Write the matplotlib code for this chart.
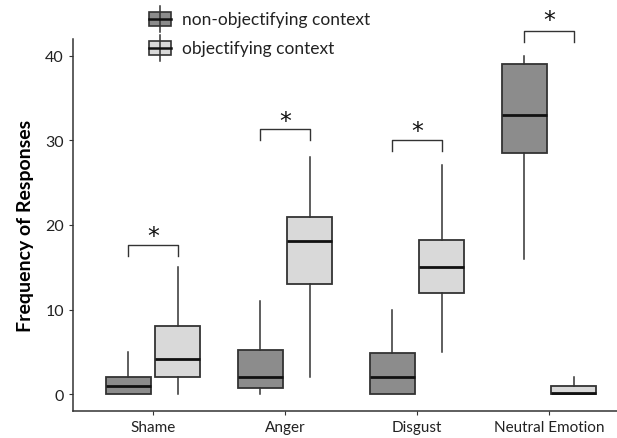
import matplotlib
matplotlib.use("Agg")
import matplotlib.pyplot as plt
from matplotlib.patches import Rectangle

# box statistics
categories = ["Shame", "Anger", "Disgust", "Neutral Emotion"]
groups = ["non-objectifying context", "objectifying context"]

non_q1 = [0, 0.75, 0, 28.5]
non_med = [1, 2, 2, 33]
non_q3 = [2, 5.2, 4.9, 39]
non_lo = [0, 0, 0, 16]
non_hi = [5, 11, 10, 40]

obj_q1 = [2, 13, 12, 0]
obj_med = [4.1, 18.1, 15, 0.15]
obj_q3 = [8, 21, 18.2, 1]
obj_lo = [0, 2, 5, 0]
obj_hi = [15, 28, 27.1, 2]

# significance brackets: bar height, star height
bracket_top = [17.6, 31.3, 30.1, 43.0]
star_y = [19.3, 32.9, 31.75, 44.8]

dark = "#8c8c8c"
light = "#d9d9d9"
edge = "#333333"

fig = plt.figure(figsize=(6.17, 4.39), dpi=100)
ax = fig.add_axes([73 / 617, 1 - 412 / 439, 1 - 73 / 617, (412 - 40) / 439])

off = 0.186
width = 0.335


def stats(q1, med, q3, lo, hi):
    return [dict(q1=a, med=b, q3=c, whislo=d, whishi=e, fliers=[])
            for a, b, c, d, e in zip(q1, med, q3, lo, hi)]


for st, pos, col in [
    (stats(non_q1, non_med, non_q3, non_lo, non_hi), [i - off for i in range(4)], dark),
    (stats(obj_q1, obj_med, obj_q3, obj_lo, obj_hi), [i + off for i in range(4)], light),
]:
    ax.bxp(st, positions=pos, widths=width, patch_artist=True, showcaps=False,
           showfliers=False, manage_ticks=False,
           boxprops=dict(facecolor=col, edgecolor=edge, linewidth=1.3),
           whiskerprops=dict(color=edge, linewidth=1.1),
           medianprops=dict(color="#111111", linewidth=2.0))

# brackets
for i in range(4):
    x0, x1 = i - off, i + off
    top = bracket_top[i]
    ax.plot([x0, x0, x1, x1], [top - 1.3, top, top, top - 1.3], color=edge,
            lw=1.0, clip_on=False)
    ax.text(i, star_y[i] - 0.6, "*", ha="center", va="center", fontsize=17,
            family="DejaVu Sans", color="#111111", clip_on=False)

ax.set_xlim(-0.606, 3.515)
ax.set_ylim(-2, 42)
ax.set_xticks(range(4))
ax.set_xticklabels(categories, family="Lato", fontsize=11)
ax.set_yticks([0, 10, 20, 30, 40])
ax.set_yticklabels(["0", "10", "20", "30", "40"], family="Lato", fontsize=11.5)
ax.tick_params(axis="both", length=3, color=edge, labelcolor="#222222")
ax.set_ylabel("Frequency of Responses", family="Lato", fontsize=14,
              fontweight="bold", labelpad=8)
for s in ["top", "right"]:
    ax.spines[s].set_visible(False)
for s in ["left", "bottom"]:
    ax.spines[s].set_color(edge)
    ax.spines[s].set_linewidth(1.1)

# legend drawn in pixel space
lg = fig.add_axes([0, 0, 1, 1], zorder=5)
lg.set_xlim(0, 617)
lg.set_ylim(439, 0)
lg.axis("off")
for (y0, y1, by, col, label) in [(7, 33, 13, dark, groups[0]),
                                 (36, 62, 42, light, groups[1])]:
    lg.plot([159.5, 159.5], [y0, y1], color=edge, lw=1.1)
    lg.add_patch(Rectangle((149, by), 22, 14, facecolor=col, edgecolor=edge, lw=1.2))
    lg.plot([149, 171], [by + 7, by + 7], color="#111111", lw=1.8)
    lg.text(182, by + 7, label, va="center", ha="left", family="Lato",
            fontsize=12.5, color="#222222")

fig.savefig("out.png", dpi=100)
